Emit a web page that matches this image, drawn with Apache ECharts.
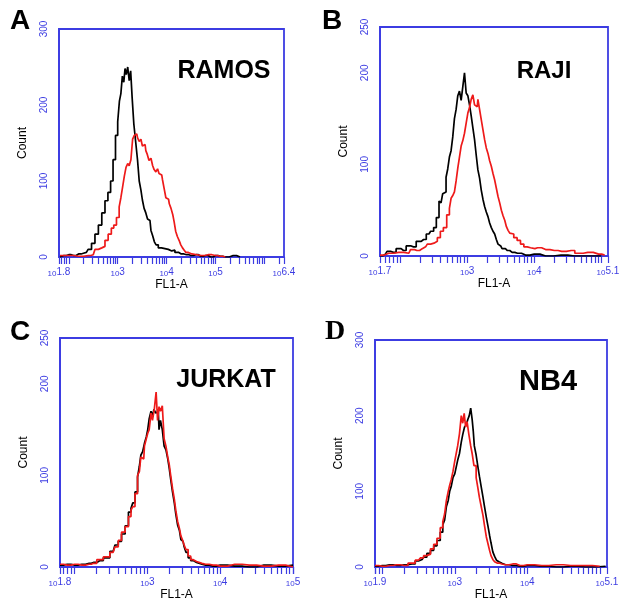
<!DOCTYPE html>
<html><head><meta charset="utf-8">
<script src="https://cdn.jsdelivr.net/npm/echarts@6/dist/echarts.min.js"></script>
<style>html,body{margin:0;padding:0;background:#fff}#c{width:625px;height:616px}</style>
</head><body><div id="c"></div>
<script>
// Panel names and letters
const panelLetters = ['A', 'B', 'C', 'D'];
const cellLines = ['RAMOS', 'RAJI', 'JURKAT', 'NB4'];
// x axis: log10 of FL1-A intensity (exponent)
const xRanges = [[1.8, 6.4], [1.7, 5.1], [1.8, 5.0], [1.9, 5.1]];
const xLabelValues = [[1.8, 3, 4, 5, 6.4], [1.7, 3, 4, 5.1], [1.8, 3, 4, 5], [1.9, 3, 4, 5.1]];
const xLabelExps = [['1.8', '3', '4', '5', '6.4'], ['1.7', '3', '4', '5.1'], ['1.8', '3', '4', '5'], ['1.9', '3', '4', '5.1']];
// y axis: Count
const yMax = [300, 250, 250, 300];
const yLabelValues = [[0, 100, 200, 300], [0, 100, 200, 250], [0, 100, 200, 250], [0, 100, 200, 300]];

// [log10(FL1-A), count]
const ramosControl = [[1.82,0],[1.9,2],[2.0,3],[2.1,2],[2.2,4],[2.3,5],[2.36,6],[2.43,10],[2.5,18],[2.57,30],[2.64,42],[2.71,58],[2.77,74],[2.83,85],[2.88,100],[2.93,128],[2.98,160],[3.02,178],[3.05,205],[3.08,215],[3.11,238],[3.14,230],[3.16,248],[3.19,240],[3.22,250],[3.25,232],[3.28,245],[3.31,210],[3.35,175],[3.39,150],[3.42,128],[3.46,100],[3.49,88],[3.52,75],[3.56,64],[3.59,58],[3.63,50],[3.66,48],[3.70,35],[3.73,28],[3.77,20],[3.80,16],[3.86,12],[3.93,11],[4.0,10],[4.07,8],[4.14,9],[4.2,6],[4.3,4],[4.41,3],[4.5,2],[4.6,3],[4.7,1],[4.8,2],[4.9,0],[5.0,2],[5.1,1],[5.2,0],[5.36,2],[5.5,0]];
const ramosStained = [[1.82,2],[2.0,2],[2.2,1],[2.4,2],[2.5,3],[2.57,10],[2.64,12],[2.71,14],[2.77,22],[2.84,30],[2.9,38],[2.94,42],[3.01,52],[3.05,66],[3.08,78],[3.12,92],[3.15,106],[3.19,118],[3.22,123],[3.25,120],[3.29,128],[3.32,155],[3.36,160],[3.39,162],[3.42,157],[3.46,152],[3.49,155],[3.52,146],[3.56,148],[3.59,140],[3.62,135],[3.66,127],[3.70,130],[3.73,120],[3.76,115],[3.80,112],[3.83,116],[3.86,110],[3.90,108],[3.93,102],[3.97,90],[4.00,78],[4.04,76],[4.07,70],[4.11,64],[4.14,56],[4.17,46],[4.20,34],[4.24,27],[4.27,22],[4.31,16],[4.34,12],[4.38,9],[4.41,6],[4.48,4],[4.55,3],[4.7,2],[4.85,3],[5.0,2],[5.09,1],[5.2,0]];
const rajiControl = [[1.70,0],[1.78,2],[1.83,5],[1.9,4],[1.98,8],[2.05,6],[2.13,11],[2.2,10],[2.28,16],[2.35,18],[2.43,24],[2.48,27],[2.52,31],[2.56,42],[2.60,60],[2.62,58],[2.65,68],[2.67,70],[2.70,86],[2.72,95],[2.75,108],[2.77,115],[2.80,130],[2.82,150],[2.85,160],[2.87,175],[2.90,180],[2.92,170],[2.95,185],[2.97,200],[3.00,178],[3.02,175],[3.05,165],[3.07,153],[3.10,140],[3.12,127],[3.15,110],[3.17,94],[3.20,85],[3.22,72],[3.25,62],[3.27,54],[3.30,48],[3.32,43],[3.35,36],[3.37,31],[3.40,27],[3.42,24],[3.45,18],[3.47,13],[3.50,11],[3.54,8],[3.6,6],[3.67,4],[3.75,3],[3.87,1],[4.0,2],[4.17,0],[4.4,1],[4.6,0],[5.0,0]];
const rajiStained = [[1.70,1],[1.83,3],[1.98,4],[2.13,3],[2.18,7],[2.25,6],[2.33,8],[2.38,10],[2.43,13],[2.48,14],[2.53,16],[2.58,20],[2.62,27],[2.67,31],[2.72,45],[2.75,52],[2.77,63],[2.80,66],[2.82,70],[2.85,82],[2.87,96],[2.90,108],[2.92,120],[2.95,126],[2.97,134],[3.00,145],[3.02,156],[3.05,162],[3.07,171],[3.10,176],[3.12,165],[3.15,163],[3.17,171],[3.20,160],[3.22,149],[3.25,138],[3.27,127],[3.30,118],[3.32,112],[3.35,104],[3.37,98],[3.40,90],[3.42,83],[3.45,74],[3.47,65],[3.50,58],[3.52,50],[3.55,44],[3.57,39],[3.60,32],[3.62,28],[3.65,25],[3.67,24],[3.72,20],[3.77,17],[3.82,13],[3.87,10],[3.92,9],[3.97,8],[4.05,9],[4.17,7],[4.3,6],[4.41,5],[4.55,6],[4.66,3],[4.8,4],[4.96,2],[5.05,1]];
const jurkatControl = [[1.80,2],[1.9,3],[2.0,2],[2.1,3],[2.2,4],[2.26,5],[2.35,7],[2.44,10],[2.53,17],[2.58,24],[2.62,28],[2.67,36],[2.72,45],[2.76,60],[2.79,64],[2.81,70],[2.85,82],[2.88,98],[2.90,110],[2.92,122],[2.95,126],[2.97,135],[3.0,142],[3.01,150],[3.04,162],[3.06,170],[3.08,165],[3.10,172],[3.13,168],[3.15,170],[3.17,150],[3.19,160],[3.22,150],[3.24,132],[3.27,128],[3.29,118],[3.31,108],[3.33,96],[3.36,82],[3.38,70],[3.40,58],[3.43,46],[3.45,40],[3.47,30],[3.49,28],[3.52,22],[3.54,16],[3.58,10],[3.61,7],[3.65,5],[3.70,3],[3.8,2],[3.9,1],[4.0,2],[4.2,1],[4.4,0],[4.6,2],[4.8,1],[5.0,2]];
const jurkatStained = [[1.80,3],[1.9,2],[2.0,3],[2.1,2],[2.2,3],[2.26,4],[2.35,8],[2.44,11],[2.53,16],[2.58,22],[2.62,29],[2.67,38],[2.72,44],[2.76,55],[2.79,62],[2.81,66],[2.85,80],[2.88,100],[2.90,104],[2.92,120],[2.95,118],[2.97,132],[3.0,140],[3.01,146],[3.04,150],[3.06,168],[3.08,160],[3.11,172],[3.13,191],[3.15,160],[3.17,175],[3.19,170],[3.22,176],[3.24,140],[3.27,132],[3.29,120],[3.31,112],[3.33,100],[3.36,86],[3.38,74],[3.40,62],[3.43,50],[3.45,42],[3.47,34],[3.49,30],[3.52,24],[3.54,19],[3.58,12],[3.61,8],[3.65,6],[3.70,4],[3.8,3],[3.9,2],[4.0,1],[4.2,3],[4.4,2],[4.6,1],[4.8,2],[5.0,0]];
const nb4Control = [[1.90,1],[2.0,2],[2.1,3],[2.2,2],[2.3,3],[2.41,4],[2.5,8],[2.55,10],[2.59,13],[2.64,18],[2.69,22],[2.73,28],[2.78,35],[2.82,46],[2.85,56],[2.87,62],[2.90,80],[2.92,88],[2.94,100],[2.96,106],[2.99,118],[3.01,123],[3.03,132],[3.05,141],[3.08,150],[3.10,165],[3.12,175],[3.15,185],[3.17,188],[3.19,195],[3.21,200],[3.23,210],[3.25,195],[3.26,180],[3.28,160],[3.31,148],[3.33,132],[3.35,120],[3.38,106],[3.40,92],[3.42,80],[3.45,66],[3.47,53],[3.49,42],[3.51,32],[3.54,20],[3.56,14],[3.59,9],[3.61,7],[3.65,5],[3.70,3],[3.8,2],[3.9,1],[4.0,2],[4.2,1],[4.4,0],[4.6,1],[4.8,0],[5.08,1]];
const nb4Stained = [[1.90,2],[2.0,1],[2.1,2],[2.2,3],[2.3,2],[2.41,5],[2.5,9],[2.55,12],[2.59,15],[2.64,17],[2.69,24],[2.73,30],[2.78,38],[2.82,52],[2.85,60],[2.87,70],[2.90,88],[2.92,100],[2.94,108],[2.96,115],[2.99,126],[3.01,140],[3.03,150],[3.05,160],[3.08,176],[3.10,200],[3.12,190],[3.14,203],[3.16,185],[3.18,192],[3.21,175],[3.23,160],[3.25,150],[3.28,134],[3.31,118],[3.33,104],[3.35,92],[3.38,80],[3.40,68],[3.42,55],[3.45,40],[3.47,30],[3.49,22],[3.51,15],[3.54,10],[3.56,7],[3.59,5],[3.65,4],[3.70,3],[3.8,4],[3.9,2],[4.0,3],[4.2,2],[4.4,3],[4.6,2],[4.8,2],[5.0,1]];

const controls = [ramosControl, rajiControl, jurkatControl, nb4Control];
const stained = [ramosStained, rajiStained, jurkatStained, nb4Stained];

const BLUE = '#3c3ce2';
const grids = [
  {left: 59, top: 29, width: 225, height: 228},
  {left: 380, top: 27, width: 228, height: 229},
  {left: 60, top: 338, width: 233, height: 229},
  {left: 375, top: 340, width: 232, height: 227}
];
const letterPos = [[20, 21, false], [332, 21, false], [20, 332, false], [335, 332, true]];
const namePos = [[224, 71, 25], [544, 71, 24], [226, 380, 25], [548, 382, 29]];

function logTicks(lo, hi) {
  const t = [];
  for (let n = Math.floor(lo); n <= Math.ceil(hi); n++) {
    for (let k = 1; k <= 9; k++) {
      const v = n + Math.log10(k);
      if (v >= lo - 1e-9 && v <= hi + 1e-9) t.push(v);
    }
  }
  t.push(lo); t.push(hi);
  return t;
}

const option = {
  animation: false,
  backgroundColor: '#fff',
  grid: grids.map(g => Object.assign({show: true, borderColor: BLUE, borderWidth: 1.8, backgroundColor: 'transparent'}, g)),
  xAxis: grids.map((g, i) => ({
    type: 'value', gridIndex: i, min: xRanges[i][0], max: xRanges[i][1],
    name: 'FL1-A', nameLocation: 'middle', nameGap: 20,
    nameTextStyle: {color: '#000', fontSize: 12, fontFamily: 'Liberation Sans'},
    axisLine: {show: true, lineStyle: {color: BLUE, width: 2}},
    axisTick: {show: true, inside: false, length: 7, lineStyle: {color: BLUE, width: 1.2}, customValues: logTicks(xRanges[i][0], xRanges[i][1])},
    splitLine: {show: false},
    axisLabel: {
      customValues: xLabelValues[i], margin: 9, color: BLUE,
      formatter: function (v) {
        const idx = xLabelValues[i].findIndex(x => Math.abs(x - v) < 1e-6);
        return '{b|10}{s|' + (idx >= 0 ? xLabelExps[i][idx] : '') + '}';
      },
      rich: {
        b: {fontSize: 8, color: BLUE, fontFamily: 'Liberation Sans', padding: [4, 0, 0, 0]},
        s: {fontSize: 10, color: BLUE, fontFamily: 'Liberation Sans'}
      }
    }
  })),
  yAxis: grids.map((g, i) => ({
    type: 'value', gridIndex: i, min: 0, max: yMax[i],
    name: 'Count', nameLocation: 'middle', nameGap: 30,
    nameTextStyle: {color: '#000', fontSize: 12, fontFamily: 'Liberation Sans'},
    axisLine: {show: true, lineStyle: {color: BLUE, width: 1.8}},
    axisTick: {show: false},
    splitLine: {show: false},
    axisLabel: {customValues: yLabelValues[i], rotate: 90, margin: 10, color: BLUE, fontSize: 10, fontFamily: 'Liberation Sans'}
  })),
  series: [].concat(
    controls.map((d, i) => ({type: 'line', step: 'middle', xAxisIndex: i, yAxisIndex: i, data: d, symbol: 'none', lineStyle: {color: '#000', width: 1.7}, z: 2})),
    stained.map((d, i) => ({type: 'line', step: 'middle', xAxisIndex: i, yAxisIndex: i, data: d, symbol: 'none', lineStyle: {color: '#ee1a1a', width: 1.7}, z: 3}))
  ),
  graphic: [].concat(
    panelLetters.map((L, i) => ({
      type: 'text', x: letterPos[i][0], y: letterPos[i][1],
      style: {text: L, fill: '#000', font: 'bold 28px ' + (letterPos[i][2] ? '"Liberation Serif"' : '"Liberation Sans"'), textAlign: 'center', textVerticalAlign: 'middle'}
    })),
    cellLines.map((n, i) => ({
      type: 'text', x: namePos[i][0], y: namePos[i][1],
      style: {text: n, fill: '#000', font: 'bold ' + namePos[i][2] + 'px "Liberation Sans"', textAlign: 'center', textVerticalAlign: 'middle'}
    }))
  )
};
const chart = echarts.init(document.getElementById('c'));
chart.setOption(option);
</script>
</body></html>
